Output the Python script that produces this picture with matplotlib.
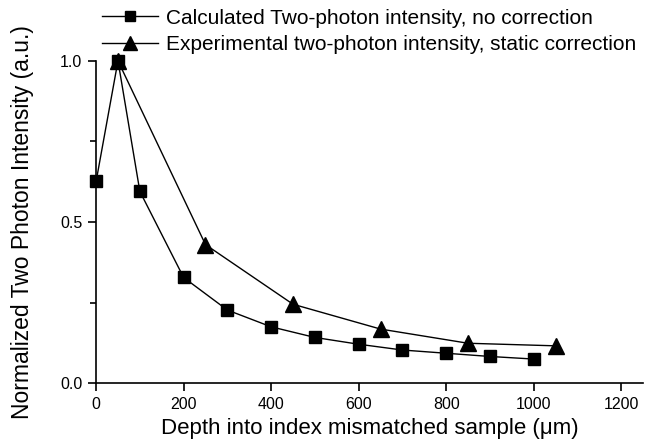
import matplotlib
matplotlib.use("Agg")
import matplotlib.pyplot as plt
from matplotlib.ticker import MultipleLocator

plt.rcParams['font.family'] = ['Liberation Sans', 'DejaVu Sans']

calc_x = [0, 50, 100, 200, 300, 400, 500, 600, 700, 800, 900, 1000]
calc_y = [0.626, 1.0, 0.595, 0.328, 0.227, 0.175, 0.142, 0.121, 0.103, 0.093, 0.083, 0.075]
exp_x = [50, 250, 450, 650, 850, 1050]
exp_y = [1.0, 0.43, 0.245, 0.168, 0.124, 0.116]
labels = ["Calculated Two-photon intensity, no correction",
          "Experimental two-photon intensity, static correction"]

fig = plt.figure(figsize=(6.45, 4.41), dpi=100)
ax = fig.add_axes([0.149, 0.131, 0.848, 0.731])

l1, = ax.plot(calc_x, calc_y, color='black', lw=1, marker='s', ms=8.5,
              clip_on=False, zorder=3)
l2, = ax.plot(exp_x, exp_y, color='black', lw=1, marker='^', ms=11,
              clip_on=False, zorder=3)

ax.set_xlim(0, 1250)
ax.set_ylim(0, 1.0)
ax.set_xticks([0, 200, 400, 600, 800, 1000, 1200])
ax.set_yticks([0.0, 0.5, 1.0])
ax.set_yticklabels(['0.0', '0.5', '1.0'])
ax.yaxis.set_minor_locator(MultipleLocator(0.25))
for s in ['top', 'right']:
    ax.spines[s].set_visible(False)
for s in ['left', 'bottom']:
    ax.spines[s].set_linewidth(1.2)
ax.tick_params(which='major', direction='out', length=6, width=1.2, labelsize=11.5, pad=4)
ax.tick_params(which='minor', direction='out', length=4, width=1.2)

ax.set_xlabel("Depth into index mismatched sample (\u03bcm)", fontsize=16, labelpad=4)
ax.set_ylabel("Normalized Two Photon Intensity (a.u.)", fontsize=16.5, labelpad=19)

fig.legend([l1, l2], labels, loc='upper left', bbox_to_anchor=(0.155, 0.985),
           frameon=False, fontsize=15, handlelength=2.7, handletextpad=0.35,
           labelspacing=0.35, borderaxespad=0, borderpad=0.1, markerscale=0.9)

fig.savefig("out.png", dpi=100)
